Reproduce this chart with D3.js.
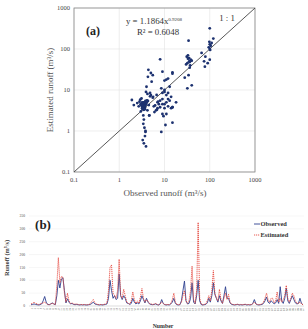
<!DOCTYPE html>
<html>
<head>
<meta charset="utf-8">
<script src="https://cdn.jsdelivr.net/npm/d3@7"></script>
<style>
  body { margin: 0; background: #fff; }
  text { font-family: "Liberation Serif", "DejaVu Serif", serif; }
</style>
</head>
<body>
<div id="chart"></div>
<script>
// panel (a) scatter: observed vs estimated runoff (m3/s)
var scatterObs = [100,120,34,98,100,105,95,100,102,66,80,75,78,100,90,110,
  31,37,33,35,38,36,40,32,30,34,28,35,40,32,34,37,36,33,
  8,9,15,15,11,12,10,13,10,9,11,10,12,9,11,13,14,10,12,14,15,7,8,10,11,9.5,8.5,10.5,15,18,15,9,12,
  4.4,5,5.5,4.3,5.2,4,4.6,4.2,3.9,1.9,2.1,2.5,2.8,3.1,3.3,3.5,3.7,3.9,4.1,3.2,3.4,3.6,3.8,4.0,3.0,3.3,3.6,2.9,3.1,3.5,3.8,4.2,4.5,3.4,3.6,3.2,
  3.4,3.5,3.4,3.6,3.8,3.7,3.9,3.3,3.5,3.8,4.6,6.8,6.2,7,5.6,6.7,4.8,5.5,3.0,2.7,
  3.1,3.3,3.5,3.7,3.9,4.1,3.2,3.4,3.6,3.8,3.0,3.2,3.4,3.6,3.8,4.0,4.3,3.5,3.3,3.7,
  5.8,6.5,7.5,8,9,6,5,4.8,7.2,8.5];
var scatterEst = [320,180,160,150,130,120,110,100,95,80,65,50,37,55,45,140,
  65,50,58,60,55,48,52,45,42,23,20,50,13,11,60,40,35,70,
  56,28,27,25,18,19,17,12,10,8.5,7.5,9,8.5,6,5,5.5,6.8,4.5,4,3.6,3.8,3.6,5.5,3.6,2.6,2.3,0.95,1.4,1.6,5,3.8,4.5,6,
  31,26,23,21,16,12,2.4,8,9,5.7,4.3,4.8,5.2,4.6,4.2,5,3.8,4.4,5.6,3.6,4.9,4.1,4.7,5.3,4.5,3.4,3.9,5.8,6.2,4.8,5.4,3.2,4.3,4.0,3.7,4.6,
  2.4,1.9,1.5,1.2,0.95,0.75,0.42,0.6,0.5,1.0,2.4,3.3,4.2,5,6.8,7.6,7,6.5,3,4,
  4.2,4.6,5.0,4.4,4.8,5.1,3.9,4.3,4.7,5.2,4.5,5.0,3.7,4.1,4.4,4.9,5.4,3.3,3.6,3.4,
  4.0,3.2,4.5,3.8,2.6,2.9,7.5,8.5,5.2,11];

// panel (b) time series
var observed = [5,6,8,6,5,4,5,8,20,37,15,6,5,8,12,8,5,40,100,70,
  105,110,60,12,28,15,8,10,6,5,6,5,4,5,4,5,4,4,5,6,
  10,15,8,6,5,4,5,4,5,6,8,30,100,60,30,40,25,30,125,40,
  25,40,30,12,10,6,10,30,15,8,12,8,20,40,25,12,30,15,8,6,
  5,6,8,5,4,8,25,10,5,4,5,4,8,15,30,10,5,4,5,20,
  60,97,20,8,10,30,90,15,8,40,100,20,6,4,5,6,12,30,15,40,
  90,45,30,15,40,20,10,40,75,30,30,12,6,5,4,5,6,4,5,4,
  5,6,4,5,4,5,10,25,8,5,4,5,6,10,20,35,15,10,20,15,
  8,12,25,10,75,20,10,30,70,20,10,25,40,25,12,8,10,30,10,5];
var estimated = [8,10,15,10,8,6,8,10,12,15,10,6,5,8,10,8,6,80,188,90,
  115,112,50,15,50,20,10,12,8,7,8,6,5,6,5,6,5,5,6,8,
  18,25,12,8,6,5,6,5,6,8,12,60,150,160,50,40,30,60,182,40,
  30,65,40,15,10,8,20,55,25,10,20,10,35,68,30,15,25,18,10,8,
  6,7,10,6,5,8,15,10,6,5,6,5,10,25,50,15,6,5,6,15,
  40,60,20,10,20,60,155,25,10,60,325,30,8,5,6,8,20,40,20,60,
  138,50,30,20,65,25,10,30,50,25,45,15,8,6,5,6,7,5,6,5,
  6,7,5,6,5,6,8,15,8,6,5,6,8,15,30,50,25,15,30,30,
  12,20,55,15,30,15,25,40,80,30,15,30,50,40,20,10,10,15,8,5];
var numberLabels = observed.map(function(d, i){ return String(i + 1); });
var logTicks = [0.1, 1, 10, 100, 1000];
var runoffTicks = [0, 50, 100, 150, 200, 250, 300, 350];

var svg = d3.select("#chart").append("svg").attr("width", 308).attr("height", 329);

// ---------- panel (a)
var xa = d3.scaleLog().domain([0.1, 1000]).range([74, 255]);
var ya = d3.scaleLog().domain([0.1, 1000]).range([172, 8]);
var ga = svg.append("g");

ga.selectAll("line.gx").data(logTicks).enter().append("line")
  .attr("x1", function(d){ return xa(d); }).attr("x2", function(d){ return xa(d); })
  .attr("y1", 8).attr("y2", 172).attr("stroke", "#e2e2e2").attr("stroke-width", 0.6);
ga.selectAll("line.gy").data(logTicks).enter().append("line")
  .attr("y1", function(d){ return ya(d); }).attr("y2", function(d){ return ya(d); })
  .attr("x1", 74).attr("x2", 255).attr("stroke", "#e2e2e2").attr("stroke-width", 0.6);
ga.append("rect").attr("x", 74).attr("y", 8).attr("width", 181).attr("height", 164)
  .attr("fill", "none").attr("stroke", "#888").attr("stroke-width", 0.8);

ga.selectAll("text.tx").data(logTicks).enter().append("text")
  .attr("x", function(d){ return xa(d); }).attr("y", 182).attr("text-anchor", "middle")
  .attr("font-size", 6.5).attr("fill", "#444").text(function(d){ return d; });
ga.selectAll("text.ty").data(logTicks).enter().append("text")
  .attr("x", 70).attr("y", function(d){ return ya(d) + 2.2; }).attr("text-anchor", "end")
  .attr("font-size", 6.5).attr("fill", "#444").text(function(d){ return d; });

ga.append("text").attr("x", 165).attr("y", 196).attr("text-anchor", "middle")
  .attr("font-size", 9).attr("fill", "#555")
  .text("Observed runoff (m\u00b3/s)");
ga.append("text").attr("transform", "translate(53,90) rotate(-90)").attr("text-anchor", "middle")
  .attr("font-size", 9).attr("fill", "#555")
  .text("Estimated runoff (m\u00b3/s)");

// 1:1 line
ga.append("line").attr("x1", xa(0.1)).attr("y1", ya(0.1)).attr("x2", xa(1000)).attr("y2", ya(1000))
  .attr("stroke", "#444").attr("stroke-width", 0.9);

ga.selectAll("circle").data(scatterObs).enter().append("circle")
  .attr("cx", function(d){ return xa(d); })
  .attr("cy", function(d, i){ return ya(scatterEst[i]); })
  .attr("r", 1.4).attr("fill", "#1d3270");

ga.append("text").attr("x", 93).attr("y", 35).attr("text-anchor", "middle")
  .attr("font-size", 12).attr("font-weight", "bold").attr("fill", "#222").text("(a)");
var eq = ga.append("text").attr("x", 126).attr("y", 24).attr("font-size", 8.8).attr("fill", "#333");
eq.append("tspan").text("y = 1.1864x");
eq.append("tspan").attr("font-size", 5).attr("dy", -3.5).text("0.9208");
ga.append("text").attr("x", 158).attr("y", 35).attr("text-anchor", "middle")
  .attr("font-size", 8.8).attr("fill", "#333").text("R\u00b2 = 0.6048");
ga.append("text").attr("x", 227).attr("y", 21).attr("text-anchor", "middle")
  .attr("font-size", 8.8).attr("fill", "#333").text("1 : 1");

// ---------- panel (b)
var xb = d3.scaleLinear().domain([0, observed.length - 1]).range([31, 303]);
var yb = d3.scaleLinear().domain([0, 350]).range([306, 216]);
var gb = svg.append("g");

gb.selectAll("line.gr").data(runoffTicks).enter().append("line")
  .attr("x1", 29).attr("x2", 304)
  .attr("y1", function(d){ return yb(d); }).attr("y2", function(d){ return yb(d); })
  .attr("stroke", function(d){ return d === 0 ? "#bbb" : "#ececec"; }).attr("stroke-width", 0.5);
gb.selectAll("text.ry").data(runoffTicks).enter().append("text")
  .attr("x", 25).attr("y", function(d){ return yb(d) + 1.2; }).attr("text-anchor", "end")
  .attr("font-size", 3.6).attr("fill", "#444").text(function(d){ return d; });

gb.selectAll("text.nx").data(numberLabels).enter().append("text")
  .attr("transform", function(d, i){ return "translate(" + (xb(i) + 0.6) + ",308) rotate(-90)"; })
  .attr("text-anchor", "end").attr("font-size", 2.4).attr("fill", "#666").text(function(d){ return d; });

var lineObs = d3.line().x(function(d, i){ return xb(i); }).y(function(d){ return yb(d); });
gb.append("path").datum(observed).attr("d", lineObs).attr("fill", "none")
  .attr("stroke", "#2c3f8f").attr("stroke-width", 0.9);
gb.append("path").datum(estimated).attr("d", lineObs).attr("fill", "none")
  .attr("stroke", "#e5483f").attr("stroke-width", 0.9).attr("stroke-dasharray", "1.2,0.8");

gb.append("text").attr("x", 43).attr("y", 229).attr("text-anchor", "middle")
  .attr("font-size", 13).attr("font-weight", "bold").attr("fill", "#222").text("(b)");
gb.append("text").attr("transform", "translate(9,258) rotate(-90)").attr("text-anchor", "middle")
  .attr("font-size", 6.3).attr("font-weight", "bold").attr("fill", "#333").text("Runoff (m\u00b3/s)");
gb.append("text").attr("x", 163).attr("y", 328).attr("text-anchor", "middle")
  .attr("font-size", 5.8).attr("font-weight", "bold").attr("fill", "#333").text("Number");

// legend
gb.append("line").attr("x1", 254).attr("x2", 260).attr("y1", 224).attr("y2", 224)
  .attr("stroke", "#2c3f8f").attr("stroke-width", 0.9);
gb.append("text").attr("x", 260.5).attr("y", 226.2).attr("font-size", 6.4).attr("font-weight", "bold")
  .attr("fill", "#333").text("Observed");
gb.append("line").attr("x1", 254).attr("x2", 260).attr("y1", 235).attr("y2", 235)
  .attr("stroke", "#e5483f").attr("stroke-width", 0.9).attr("stroke-dasharray", "1.2,0.8");
gb.append("text").attr("x", 260.5).attr("y", 237.2).attr("font-size", 6.4).attr("font-weight", "bold")
  .attr("fill", "#333").text("Estimated");
</script>
</body>
</html>
